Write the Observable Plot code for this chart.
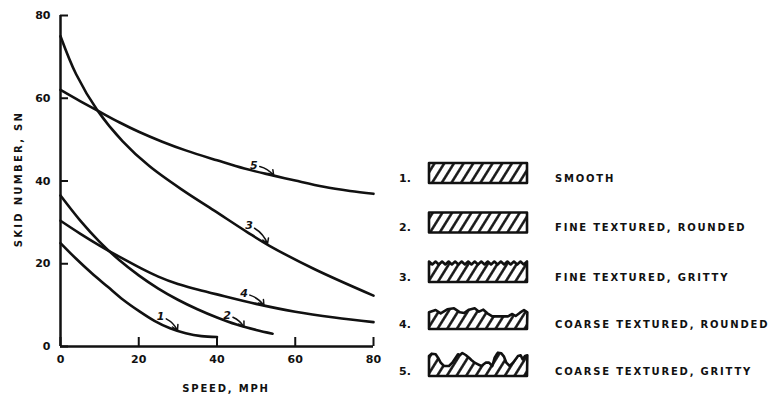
<!DOCTYPE html>
<html>
<head>
<meta charset="utf-8">
<script src="https://cdn.jsdelivr.net/npm/d3@7"></script>
<script src="https://cdn.jsdelivr.net/npm/@observablehq/plot@0.6"></script>
<style>
  html, body { margin: 0; padding: 0; background: #fff; }
  #wrap { position: relative; width: 771px; height: 403px; overflow: hidden; }
  #wrap > svg { position: absolute; left: 0; top: 0; }
</style>
</head>
<body>
<div id="wrap"></div>
<script>
// ---- data ----
const xTicks = [0, 20, 40, 60, 80];
const yTicks = [0, 20, 40, 60, 80];

const speed1 = [0, 4, 8, 12, 16, 20, 24, 28, 32, 36, 40];
const sn1    = [25, 21.2, 17.7, 14.5, 11.3, 8.6, 6.2, 4.4, 3.2, 2.5, 2.3];

const speed2 = [0, 5, 10, 15, 20, 25, 30, 35, 40, 45, 50, 54.2];
const sn2    = [36.5, 30.5, 25.3, 20.9, 17.2, 14, 11.3, 9, 7, 5.3, 4, 3.1];

const speed3 = [0, 4, 9.5, 15.9, 22.7, 31.5, 39.2, 47.8, 53.3, 64.7, 80];
const sn3    = [75, 65.8, 57, 49.6, 43.6, 37.6, 32.9, 27.6, 24.4, 18.8, 12.3];

const speed4 = [0, 5, 10, 15, 20, 25, 30, 35, 40, 50, 60, 70, 80];
const sn4    = [30.4, 27.3, 24.4, 21.7, 19.2, 16.9, 15.1, 13.8, 12.6, 10.3, 8.4, 7, 5.9];

const speed5 = [0, 5, 9.5, 15, 20, 26, 32, 40, 47, 54.5, 60, 67.3, 74, 80];
const sn5    = [62, 59.3, 57, 54.2, 51.9, 49.5, 47.4, 45, 43, 41.3, 40.1, 38.6, 37.6, 36.9];

const curveIds   = ["1", "2", "3", "4", "5"];
const labelSpeed = [25.6, 42.6, 48.2, 46.9, 49.4];
const labelSN    = [7.2, 7.5, 29.2, 12.7, 43.7];
const tipSpeed   = [29.9, 46.9, 52.9, 52.0, 54.5];
const tipSN      = [3.9, 4.7, 24.8, 9.9, 41.3];

const legendIds   = ["1.", "2.", "3.", "4.", "5."];
const legendNames = ["SMOOTH", "FINE TEXTURED, ROUNDED", "FINE TEXTURED, GRITTY",
                     "COARSE TEXTURED, ROUNDED", "COARSE TEXTURED, GRITTY"];

const xLabel = "SPEED, MPH";
const yLabel = "SKID NUMBER, SN";

// ---- tables built from the arrays ----
const curveSpeeds = [speed1, speed2, speed3, speed4, speed5];
const curveSNs = [sn1, sn2, sn3, sn4, sn5];
const rows = curveIds.flatMap((id, k) =>
  curveSpeeds[k].map((s, i) => ({id, speed: s, sn: curveSNs[k][i]})));
const labels = curveIds.map((id, i) => ({
  id, x: labelSpeed[i], y: labelSN[i], tx: tipSpeed[i], ty: tipSN[i]
}));

const ink = "#111";
const font = "DejaVu Sans";

const plot = Plot.plot({
  width: 400,
  height: 403,
  marginLeft: 60,
  marginRight: 27,
  marginTop: 15,
  marginBottom: 57,
  x: {domain: [0, 80]},
  y: {domain: [0, 80]},
  style: {fontFamily: font, fontWeight: "bold", fontSize: "11px", color: ink, background: "transparent"},
  marks: [
    Plot.axisX({ticks: xTicks, tickSize: -9, tickPadding: 18, tickFormat: d => String(d),
                label: null, strokeWidth: 2, fontSize: 11}),
    Plot.axisY({ticks: yTicks, tickSize: -8, tickPadding: 18, tickFormat: d => String(d),
                label: null, strokeWidth: 2, fontSize: 11}),
    Plot.ruleX([0], {y1: 0, y2: 80, stroke: ink, strokeWidth: 2.5}),
    Plot.ruleY([0], {x1: 0, x2: 80, stroke: ink, strokeWidth: 2.5}),
    Plot.line(rows, {x: "speed", y: "sn", z: "id", curve: "catmull-rom",
                     stroke: ink, strokeWidth: 2.6, strokeLinecap: "round"}),
    Plot.arrow(labels, {x1: "x", y1: "y", x2: "tx", y2: "ty", bend: 25,
                        insetStart: 6, headLength: 6, stroke: ink, strokeWidth: 1.5}),
    Plot.text(labels, {x: "x", y: "y", text: "id", fontSize: 11, fontWeight: "bold",
                       fontStyle: "italic", fill: ink}),
    Plot.text([xLabel], {frameAnchor: "bottom", textAnchor: "middle", dx: 9, dy: 45, fontSize: 10,
                         fontWeight: "bold", fill: ink}),
    Plot.text([yLabel], {frameAnchor: "left", textAnchor: "middle", rotate: -90, dx: -42, dy: -2,
                         fontSize: 10, fontWeight: "bold", fill: ink})
  ]
});
// widen the lettering of the two axis titles
d3.select(plot).selectAll("text")
  .filter(function() { return this.textContent === xLabel; })
  .attr("letter-spacing", "1.8px");
d3.select(plot).selectAll("text")
  .filter(function() { return this.textContent === yLabel; })
  .attr("letter-spacing", "2.3px");

const wrap = document.getElementById("wrap");
wrap.appendChild(plot);

// ---- legend with hatched surface profiles ----
const svg = d3.create("svg").attr("width", 771).attr("height", 403)
  .attr("font-family", font).attr("font-weight", "bold").attr("fill", ink);

const defs = svg.append("defs");
const pat = defs.append("pattern").attr("id", "hatch")
  .attr("patternUnits", "userSpaceOnUse").attr("width", 8.2).attr("height", 10)
  .attr("patternTransform", "rotate(32)");
pat.append("line").attr("x1", 4.1).attr("x2", 4.1).attr("y1", -1).attr("y2", 11)
  .attr("stroke", ink).attr("stroke-width", 2.5);

// profile shapes (points relative to the box: x from 0..W, y up from bottom)
const W = 98;
const flat = [[0, 20], [W, 20]];
const gritty = [];
for (let i = 0; i <= 30; i++) gritty.push([i * W / 30, i % 2 === 0 ? 20.5 : 17.5]);
const conv = pts => pts.map(([zx, zy]) => [(zx - 25) / 3, (215 - zy) / 3]);
const rounded = conv([[25,165],[45,158],[60,168],[80,156],[100,153],[118,165],[130,167],[145,157],
  [162,153],[175,163],[188,157],[200,168],[215,177],[262,177],[275,170],[285,176],[298,166],[310,158],[320,165]]);
const coarse = conv([[25,155],[33,148],[45,150],[52,160],[60,175],[70,185],[85,185],[95,175],[105,160],
  [112,150],[118,152],[125,146],[135,152],[145,160],[152,167],[162,175],[172,180],[182,185],[195,175],[205,175],
  [215,185],[222,160],[228,150],[232,145],[242,147],[250,157],[257,175],[267,185],[277,175],[286,163],[292,155],
  [300,153],[306,165],[313,155],[320,153]]);
const profiles = [flat, flat, gritty, rounded, coarse];

const textY = [178, 227.5, 277, 324, 371];
legendIds.forEach((id, i) => {
  const y = textY[i];
  const bottom = y + 5;
  const left = 429;
  const prof = profiles[i];
  const pts = [[left, bottom]].concat(prof.map(([px, py]) => [left + px, bottom - py])).concat([[left + W, bottom]]);
  const path = d3.line()(pts) + "Z";
  svg.append("path").attr("d", path).attr("fill", "url(#hatch)")
    .attr("stroke", ink).attr("stroke-width", 2.6).attr("stroke-linejoin", "round");
  svg.append("text").attr("x", 399).attr("y", y).attr("dy", "0.35em")
    .attr("font-size", 11).text(id);
  svg.append("text").attr("x", 555).attr("y", y).attr("dy", "0.35em")
    .attr("font-size", 10).attr("letter-spacing", "1.8px").text(legendNames[i]);
});
wrap.appendChild(svg.node());
</script>
</body>
</html>
